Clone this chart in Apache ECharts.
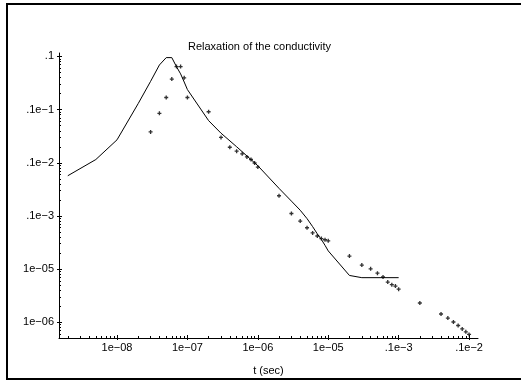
<!DOCTYPE html>
<html>
<head>
<meta charset="utf-8">
<script src="https://cdn.jsdelivr.net/npm/echarts@6/dist/echarts.min.js"></script>
<style>
  html, body { margin: 0; padding: 0; background: #fff; }
  #chart { width: 521px; height: 381px; }
</style>
</head>
<body>
<div id="chart"></div>
<script>
// model curve (solid line)
const lineT = [2e-9, 5e-9, 1e-8, 2e-8, 3e-8, 4e-8, 5e-8, 6e-8, 7e-8, 8e-8, 9e-8, 1e-7,
  2e-7, 3e-7, 5e-7, 1e-6, 2e-6, 3e-6, 4e-6, 5e-6, 6e-6, 7e-6, 8e-6, 9e-6, 1e-5,
  2e-5, 3e-5, 1e-4]
const lineY = [5.7e-4, 1.15e-3, 2.7e-3, 1.3e-2, 3.4e-2, 6.9e-2, 9.5e-2, 9.5e-2, 6.4e-2, 4.7e-2, 3.3e-2, 2.38e-2,
  6.2e-3, 3.6e-3, 2.0e-3, 8.8e-4, 3.3e-4, 1.9e-4, 1.28e-4, 8.9e-5, 6.3e-5, 4.6e-5, 3.6e-5, 2.8e-5, 2.2e-5,
  7.6e-6, 6.9e-6, 6.9e-6]

// measured points
const pointT = [3e-8, 4e-8, 5e-8, 6e-8, 7e-8, 8e-8, 9e-8, 1e-7,
  2e-7, 3e-7, 4e-7, 5e-7, 6e-7, 7e-7, 8e-7, 9e-7, 1e-6,
  2e-6, 3e-6, 4e-6, 5e-6, 6e-6, 7e-6, 8e-6, 9e-6, 1e-5,
  2e-5, 3e-5, 4e-5, 5e-5, 6e-5, 7e-5, 8e-5, 9e-5, 1e-4,
  2e-4, 4e-4, 5e-4, 6e-4, 7e-4, 8e-4, 9e-4, 1e-3]
const pointY = [3.8e-3, 8.5e-3, 1.69e-2, 3.75e-2, 6.45e-2, 6.45e-2, 3.96e-2, 1.69e-2,
  9.1e-3, 3.0e-3, 1.96e-3, 1.65e-3, 1.47e-3, 1.29e-3, 1.15e-3, 9.9e-4, 8.3e-4,
  2.4e-4, 1.11e-4, 8.0e-5, 6.0e-5, 4.8e-5, 4.2e-5, 3.75e-5, 3.56e-5, 3.4e-5,
  1.76e-5, 1.19e-5, 1.01e-5, 8.4e-6, 7.1e-6, 5.7e-6, 5.1e-6, 4.8e-6, 4.2e-6,
  2.3e-6, 1.43e-6, 1.2e-6, 1.01e-6, 8.7e-7, 7.5e-7, 6.6e-7, 5.9e-7]

// tick labels
const xMajor = [1e-8, 1e-7, 1e-6, 1e-5, 1e-4, 1e-3]
const xLabels = ['1e\u221208', '1e\u221207', '1e\u221206', '1e\u221205', '.1e\u22123', '.1e\u22122']
const yMajor = [1e-1, 1e-2, 1e-3, 1e-4, 1e-5, 1e-6]
const yLabels = ['.1', '.1e\u22121', '.1e\u22122', '.1e\u22123', '1e\u221205', '1e\u221206']

const xMin = 1.5e-9, xMax = 1.34e-3
const yMin = 5.06e-7, yMax = 0.116

const font = 'Liberation Sans, Arial, sans-serif'

// minor ticks at 2..9 x 10^n
function minorTicks(lo, hi) {
	const out = []
	for (let e = Math.floor(Math.log10(lo)); e <= Math.ceil(Math.log10(hi)); e++) {
		for (let k = 2; k <= 9; k++) {
			const v = k * Math.pow(10, e)
			if (v >= lo && v <= hi) out.push(v)
		}
	}
	return out
}

function labelOf(majors, labels) {
	return function (v) {
		const i = majors.findIndex(m => Math.abs(Math.log10(m) - Math.log10(v)) < 1e-6)
		return i < 0 ? '' : labels[i]
	}
}

function makeAxes(dim, majors, labels, lo, hi) {
	const base = {
		type: 'log',
		logBase: 10,
		min: lo,
		max: hi,
		position: dim === 'x' ? 'bottom' : 'left',
		splitLine: { show: false },
		axisLine: { show: false, lineStyle: { color: '#000', width: 1 } },
		axisLabel: { show: false },
		axisTick: { show: false },
		z: 5,
	}
	const main = Object.assign({}, base, {
		axisLine: { show: true, onZero: false, lineStyle: { color: '#000', width: 1 } },
		axisTick: {
			show: true, inside: false, length: 2, customValues: majors,
			lineStyle: { color: '#000', width: 1 },
		},
		axisLabel: {
			show: true, customValues: majors, color: '#000', fontSize: 11,
			fontFamily: font, margin: dim === 'x' ? 4 : 5,
			formatter: labelOf(majors, labels),
		},
	})
	if (dim === 'x') {
		main.name = 't (sec)'
		main.nameLocation = 'middle'
		main.nameGap = 27
		main.nameTextStyle = { color: '#000', fontSize: 11, fontFamily: font }
	}
	const majIn = Object.assign({}, base, {
		axisTick: {
			show: true, inside: true, length: 3, customValues: majors,
			lineStyle: { color: '#000', width: 1 },
		},
	})
	const minIn = Object.assign({}, base, {
		axisTick: {
			show: true, inside: true, length: 2, customValues: minorTicks(lo, hi),
			lineStyle: { color: '#000', width: 1 },
		},
	})
	return [main, majIn, minIn]
}

const chart = echarts.init(document.getElementById('chart'))

chart.setOption({
	animation: false,
	backgroundColor: '#fff',
	title: {
		text: 'Relaxation of the conductivity',
		left: 188,
		top: 41,
		padding: 0,
		textStyle: { color: '#000', fontSize: 11, fontWeight: 'normal', fontFamily: font },
	},
	grid: { left: 59, right: 43, top: 53, bottom: 38 },
	xAxis: makeAxes('x', xMajor, xLabels, xMin, xMax),
	yAxis: makeAxes('y', yMajor, yLabels, yMin, yMax),
	graphic: [
		{
			type: 'rect',
			shape: { x: 7, y: 4, width: 600, height: 375 },
			style: { fill: 'none', stroke: '#000', lineWidth: 2 },
			silent: true,
		},
	],
	series: [
		{
			type: 'line',
			data: lineT.map((t, i) => [t, lineY[i]]),
			symbol: 'none',
			lineStyle: { color: '#000', width: 1 },
			z: 3,
		},
		{
			type: 'scatter',
			data: pointT.map((t, i) => [t, pointY[i]]),
			symbol: 'path://M1,0H2V1H3V2H2V3H1V2H0V1H1Z',
			symbolSize: 4,
			itemStyle: { color: '#000' },
			z: 4,
		},
	],
})
</script>
</body>
</html>
